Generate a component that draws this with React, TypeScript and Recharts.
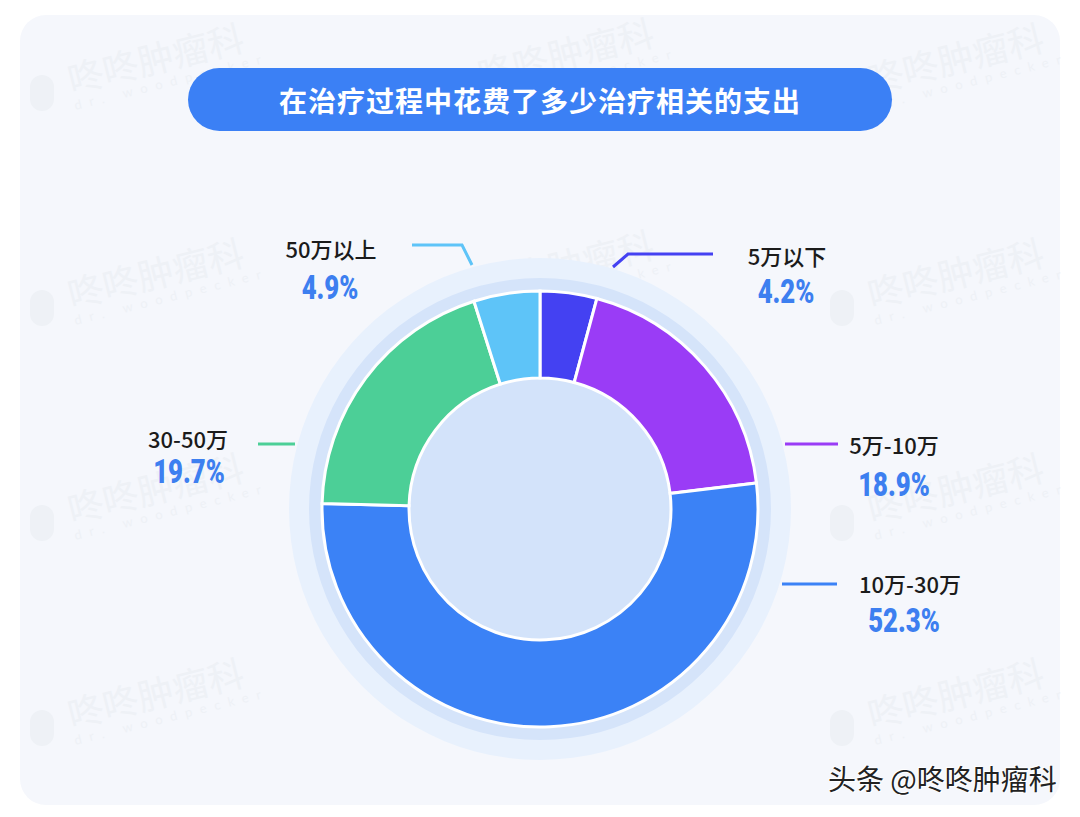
import { PieChart, Pie, Cell } from "recharts";

const categories = ["5万以下", "5万-10万", "10万-30万", "30-50万", "50万以上"];
const shares = [4.2, 18.9, 52.3, 19.7, 4.9];
const sliceColors = ["#4441f2", "#9a3cf6", "#3b82f6", "#4ccf97", "#5ec4f8"];
const ringData = [{ name: "ring", value: 1 }];

const title = "在治疗过程中花费了多少治疗相关的支出";
const footer = "头条 @咚咚肿瘤科";
const watermarkText = "咚咚肿瘤科";
const watermarkSub = "dr. woodpecker";

const chartData = categories.map((name, i) => ({ name, value: shares[i] }));

// leader lines and text, relative to the pie centre
const labelLayout = [
  { line: [[73, -242], [88, -255], [173, -255]], name: [247, -254], pct: [246, -217] },
  { line: [[245, -65], [298, -65]], name: [354, -65], pct: [354, -24] },
  { line: [[242, 75], [297, 75]], name: [370, 74], pct: [364, 112] },
  { line: [[-282, -65], [-245, -65]], name: [-352, -71], pct: [-351, -37] },
  { line: [[-68, -244], [-78, -264], [-128, -264]], name: [-209, -261], pct: [-210, -221] },
];

const CX = 540;
const CY = 509;

const renderLabel = (props: any) => {
  const { cx, cy, index } = props;
  const l = labelLayout[index];
  const pts = l.line.map(([x, y]) => `${cx + x},${cy + y}`).join(" ");
  return (
    <g key={`lbl-${index}`}>
      <polyline points={pts} fill="none" stroke={sliceColors[index]} strokeWidth={3} />
      <text
        x={cx + l.name[0]}
        y={cy + l.name[1]}
        textAnchor="middle"
        dominantBaseline="central"
        fill="#1b1b1b"
        fontSize={22}
        fontWeight={500}
        fontFamily="'Noto Sans CJK SC', 'Noto Sans', sans-serif"
      >
        {categories[index]}
      </text>
      <text
        transform={`translate(${cx + l.pct[0]},${cy + l.pct[1]}) scale(0.78,1)`}
        x={0}
        y={0}
        textAnchor="middle"
        dominantBaseline="central"
        fill="#3d7ff0"
        fontSize={33}
        fontWeight={900}
        fontFamily="Roboto, 'DejaVu Sans', sans-serif"
      >
        {shares[index].toFixed(1)}%
      </text>
    </g>
  );
};

const watermarkSpots = [
  [20, 45], [430, 40], [820, 45],
  [20, 260], [430, 252], [820, 260],
  [20, 475], [820, 475],
  [20, 680], [430, 672], [820, 680],
];

const Watermark = ({ x, y }: { x: number; y: number }) => (
  <div style={{ position: "absolute", left: x, top: y, width: 240, height: 100 }}>
    <div
      style={{
        position: "absolute",
        left: 10,
        top: 30,
        width: 24,
        height: 36,
        borderRadius: 12,
        background: "#eef1f6",
      }}
    />
    <div
      style={{
        position: "absolute",
        left: 56,
        top: 14,
        transform: "rotate(-14deg)",
        transformOrigin: "left bottom",
        color: "#eef1f6",
        fontSize: 36,
        fontFamily: "'Noto Sans CJK SC', sans-serif",
        whiteSpace: "nowrap",
        lineHeight: 1,
      }}
    >
      {watermarkText}
      <div style={{ fontSize: 13, letterSpacing: 8, marginTop: 4, fontFamily: "Lato, sans-serif" }}>
        {watermarkSub}
      </div>
    </div>
  </div>
);

const App = () => {
  return (
    <div
      style={{
        position: "absolute",
        left: 0,
        top: 0,
        width: 1080,
        height: 817,
        background: "#ffffff",
        overflow: "hidden",
      }}
    >
      <div
        style={{
          position: "absolute",
          left: 20,
          top: 15,
          width: 1040,
          height: 790,
          borderRadius: 26,
          background: "#f5f7fc",
        }}
      />
      {watermarkSpots.map(([x, y], i) => (
        <Watermark key={i} x={x} y={y} />
      ))}
      <div
        style={{
          position: "absolute",
          left: 188,
          top: 68,
          width: 704,
          height: 63,
          borderRadius: 32,
          background: "#3b80f5",
          color: "#ffffff",
          fontSize: 28,
          fontWeight: 700,
          fontFamily: "'Noto Sans CJK SC', sans-serif",
          display: "flex",
          alignItems: "center",
          justifyContent: "center",
          letterSpacing: 1,
        }}
      >
        {title}
      </div>
      <div style={{ position: "absolute", left: 0, top: 0 }}>
        <PieChart width={1080} height={817} margin={{ top: 0, right: 0, bottom: 0, left: 0 }}>
          <Pie
            data={ringData}
            dataKey="value"
            cx={CX}
            cy={CY}
            innerRadius={230}
            outerRadius={251}
            fill="#e8f1fd"
            stroke="none"
            isAnimationActive={false}
          />
          <Pie
            data={ringData}
            dataKey="value"
            cx={CX}
            cy={CY}
            innerRadius={217}
            outerRadius={231}
            fill="#d5e4fa"
            stroke="none"
            isAnimationActive={false}
          />
          <Pie
            data={ringData}
            dataKey="value"
            cx={CX}
            cy={CY}
            innerRadius={0}
            outerRadius={133}
            fill="#d3e3fa"
            stroke="none"
            isAnimationActive={false}
          />
          <Pie
            data={chartData}
            dataKey="value"
            nameKey="name"
            cx={CX}
            cy={CY}
            innerRadius={131}
            outerRadius={218}
            startAngle={90}
            endAngle={-270}
            stroke="#ffffff"
            strokeWidth={3}
            label={renderLabel}
            labelLine={false}
            isAnimationActive={false}
          >
            {chartData.map((d, i) => (
              <Cell key={d.name} fill={sliceColors[i]} />
            ))}
          </Pie>
        </PieChart>
      </div>
      <div
        style={{
          position: "absolute",
          left: 828,
          top: 762,
          color: "#222222",
          fontSize: 28,
          fontFamily: "'Noto Sans CJK SC', sans-serif",
          textShadow: "1px 1px 0 #ffffff, -1px -1px 0 #ffffff",
          whiteSpace: "nowrap",
          lineHeight: "32px",
        }}
      >
        {footer}
      </div>
    </div>
  );
};

export default App;
